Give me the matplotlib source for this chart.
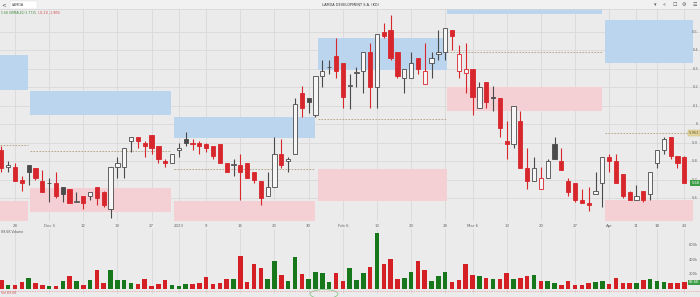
import matplotlib.pyplot as plt
from matplotlib.patches import Rectangle, Ellipse
from matplotlib.lines import Line2D

# daily candles, Athens, 24 Nov 2022 .. 24 Apr 2023 (index = trading day)
opens = [5.86, 5.77, 5.77, 5.70, 5.78, 5.76, 5.69, 5.68, 5.68, 5.66,
         5.65, 5.58, 5.61, 5.61, 5.66, 5.63, 5.54, 5.77, 5.77, 5.91,
         5.93, 5.90, 5.94, 5.88, 5.80, 5.79, 5.86, 5.92, 5.90, 5.90,
         5.89, 5.88, 5.89, 5.79, 5.78, 5.78, 5.79, 5.74, 5.69, 5.61,
         5.66, 5.84, 5.80, 5.84, 6.17, 6.14, 6.05, 6.26, 6.31, 6.37,
         6.33, 6.21, 6.28, 6.29, 6.39, 6.20, 6.50, 6.51, 6.39, 6.25,
         6.25, 6.36, 6.22, 6.33, 6.38, 6.39, 6.51, 6.29, 6.28, 6.30,
         6.09, 6.23, 6.15, 6.14, 5.91, 5.89, 6.02, 5.76, 5.69, 5.65,
         5.71, 5.89, 5.80, 5.69, 5.68, 5.59, 5.57, 5.62, 5.68, 5.82,
         5.80, 5.73, 5.63, 5.59, 5.64, 5.62, 5.79, 5.86, 5.93, 5.83,
         5.82]
highs = [5.88, 5.80, 5.79, 5.72, 5.78, 5.76, 5.75, 5.71, 5.74, 5.66,
         5.65, 5.63, 5.61, 5.63, 5.66, 5.64, 5.77, 5.82, 5.87, 5.93,
         5.93, 5.91, 5.94, 5.88, 5.81, 5.84, 5.90, 5.96, 5.92, 5.91,
         5.90, 5.88, 5.89, 5.79, 5.81, 5.84, 5.79, 5.74, 5.69, 5.74,
         5.93, 5.92, 5.82, 6.14, 6.21, 6.14, 6.26, 6.35, 6.35, 6.47,
         6.33, 6.27, 6.31, 6.39, 6.44, 6.49, 6.55, 6.59, 6.39, 6.30,
         6.39, 6.36, 6.44, 6.39, 6.51, 6.52, 6.51, 6.43, 6.44, 6.30,
         6.23, 6.23, 6.21, 6.14, 6.02, 6.10, 6.07, 5.87, 5.82, 5.77,
         5.81, 5.93, 5.87, 5.71, 5.68, 5.65, 5.66, 5.74, 5.82, 5.84,
         5.84, 5.73, 5.64, 5.67, 5.64, 5.74, 5.86, 5.93, 5.93, 5.83,
         5.83]
lows = [5.74, 5.74, 5.69, 5.64, 5.67, 5.70, 5.63, 5.58, 5.60, 5.58,
        5.57, 5.58, 5.54, 5.59, 5.56, 5.55, 5.49, 5.71, 5.71, 5.85,
        5.87, 5.82, 5.84, 5.79, 5.77, 5.79, 5.82, 5.88, 5.86, 5.84,
        5.85, 5.81, 5.79, 5.74, 5.72, 5.59, 5.71, 5.68, 5.56, 5.61,
        5.66, 5.76, 5.74, 5.84, 6.04, 6.06, 6.04, 6.20, 6.27, 6.25,
        6.09, 6.08, 6.20, 6.17, 6.09, 6.09, 6.47, 6.35, 6.25, 6.17,
        6.25, 6.27, 6.22, 6.25, 6.35, 6.35, 6.40, 6.25, 6.17, 6.05,
        6.09, 6.09, 6.07, 5.93, 5.81, 5.87, 5.76, 5.65, 5.69, 5.65,
        5.71, 5.81, 5.75, 5.61, 5.58, 5.57, 5.53, 5.62, 5.55, 5.74,
        5.68, 5.60, 5.59, 5.59, 5.58, 5.59, 5.76, 5.84, 5.81, 5.76,
        5.68]
closes = [5.76, 5.78, 5.69, 5.68, 5.74, 5.71, 5.63, 5.68, 5.61, 5.62,
          5.57, 5.58, 5.57, 5.63, 5.60, 5.56, 5.77, 5.79, 5.87, 5.93,
          5.91, 5.88, 5.87, 5.81, 5.79, 5.84, 5.87, 5.90, 5.89, 5.88,
          5.87, 5.83, 5.79, 5.74, 5.78, 5.74, 5.71, 5.70, 5.60, 5.66,
          5.84, 5.78, 5.81, 6.11, 6.09, 6.12, 6.26, 6.29, 6.31, 6.29,
          6.15, 6.21, 6.28, 6.39, 6.20, 6.49, 6.48, 6.36, 6.26, 6.30,
          6.33, 6.30, 6.29, 6.36, 6.39, 6.52, 6.48, 6.38, 6.30, 6.15,
          6.20, 6.12, 6.14, 5.98, 5.89, 6.10, 5.76, 5.69, 5.76, 5.71,
          5.80, 5.81, 5.75, 5.63, 5.59, 5.57, 5.56, 5.64, 5.82, 5.80,
          5.68, 5.61, 5.59, 5.61, 5.59, 5.74, 5.86, 5.92, 5.83, 5.79,
          5.68]
# volume in thousands
volumes = [120, 53, 53, 93, 147, 89, 62, 36, 44, 107,
           173, 116, 53, 120, 262, 89, 267, 120, 129, 89,
           71, 133, 40, 67, 129, 58, 40, 71, 71, 89,
           160, 71, 84, 142, 138, 449, 102, 338, 289, 138,
           387, 187, 107, 436, 200, 133, 231, 218, 102, 218,
           116, 284, 120, 218, 302, 764, 342, 418, 142, 156,
           231, 387, 262, 111, 178, 231, 93, 120, 338, 187,
           173, 156, 142, 142, 213, 133, 151, 173, 196, 116,
           107, 84, 53, 116, 62, 62, 89, 93, 107, 67,
           151, 76, 76, 76, 120, 133, 111, 93, 76, 76,
           89.6]

tick_idx = [2, 7, 12, 17, 22, 26, 30, 35, 40, 45, 50, 55, 60, 65, 69,
            74, 79, 84, 89, 93, 96, 100]
tick_labels = ['28', 'Dec 5', '12', '19', '27', '2023', '9', '16', '23', '30',
               'Feb 6', '13', '20', '28', 'Mar 6', '13', '20', '27', 'Apr',
               '11', '18', '24']
price_ticks = [5.6, 5.7, 5.8, 5.9, 6.0, 6.1, 6.2, 6.3, 6.4, 6.5]
price_tick_labels = ['5.6', '5.7', '5.8', '5.9', '6', '6.1', '6.2', '6.3', '6.4', '6.5']
vol_ticks = [200, 400, 600]
vol_tick_labels = ['200k', '400k', '600k']

# zones: (first bar, last bar, low, high)
supply_zones = [(-0.2, 3.9, 6.185, 6.375), (4.2, 24.85, 6.05, 6.18),
                (25.3, 45.9, 5.925, 6.04), (46.4, 65.25, 6.294, 6.467),
                (65.3, 87.95, 6.598, 6.70), (88.4, 101.3, 6.332, 6.565)]
demand_zones = [(-0.2, 3.9, 5.40, 5.584), (4.2, 24.85, 5.524, 5.654),
                (25.3, 45.9, 5.40, 5.584), (46.4, 65.25, 5.584, 5.757),
                (65.3, 87.95, 6.072, 6.202), (88.4, 101.3, 5.40, 5.589)]
levels = [(-0.2, 3.9, 5.887), (4.2, 24.85, 5.855), (25.3, 45.9, 5.757),
          (46.4, 65.25, 6.028), (65.3, 87.95, 6.392), (88.4, 101.3, 5.952)]

BG = '#ebebeb'
GRID = '#d9d9d9'
RED = '#d8262d'
DARK = '#4a4a4a'
VGREEN = '#17781b'
VRED = '#d41f24'
TXT = '#666666'

W, H = 700, 297


def fy(py):
    return 1 - py / H


fig = plt.figure(figsize=(7.0, 2.97), dpi=100)
fig.patch.set_facecolor(BG)

ax = fig.add_axes([0, fy(221), 1, (221 - 9) / H])
vax = fig.add_axes([0, fy(294), 1, (294 - 229) / H], sharex=ax)
for a in (ax, vax):
    a.set_facecolor(BG)
    for s in a.spines.values():
        s.set_visible(False)
    a.set_xticks(tick_idx)
    a.grid(axis='x', color=GRID, lw=0.6)
    a.set_axisbelow(True)

ax.set_xlim(-0.19, 102.3)
ax.set_ylim(5.475, 6.625)
vax.set_ylim(-68, 822)

ax.set_xticklabels(tick_labels)
ax.tick_params(axis='x', length=0, labelsize=2.8, pad=2.2, colors=TXT)
ax.set_yticks(price_ticks)
ax.tick_params(axis='y', length=0, labelleft=False)
ax.grid(axis='y', color=GRID, lw=0.6)
vax.tick_params(axis='x', length=0, labelbottom=False)
vax.set_yticks(vol_ticks)
vax.tick_params(axis='y', length=0, labelleft=False)

# zones and levels
for x0, x1, lo, hi in supply_zones:
    ax.add_patch(Rectangle((x0, lo), x1 - x0, hi - lo, facecolor='#bcd5ee',
                           edgecolor='none', zorder=1))
for x0, x1, lo, hi in demand_zones:
    ax.add_patch(Rectangle((x0, lo), x1 - x0, hi - lo, facecolor='#f4cfd3',
                           edgecolor='none', zorder=1))
for x0, x1, lv in levels:
    ax.hlines(lv, x0, x1, colors='#ad9d7c', lw=0.6, linestyles=(0, (2, 1.6)), zorder=2)

# candles
n = len(closes)
cols = []
for i in range(n):
    prev = closes[i - 1] if i > 0 else opens[i]
    col = RED if closes[i] < prev else DARK
    cols.append(VRED if closes[i] < prev else VGREEN)
    ax.vlines(i, lows[i], highs[i], color=col, lw=0.8, zorder=3)
    lo, hi = min(opens[i], closes[i]), max(opens[i], closes[i])
    filled = closes[i] < opens[i]
    ax.add_patch(Rectangle((i - 0.31, lo), 0.62, max(hi - lo, 0.003),
                           facecolor=col if filled else '#f6f6f6',
                           edgecolor=col, lw=0.6, zorder=4))

vax.bar(range(n), volumes, width=0.66, color=cols, zorder=3)

# right side labels
for v, t in zip(price_ticks, price_tick_labels):
    ax.text(0.997, v, t, transform=ax.get_yaxis_transform(), ha='right',
            va='center', fontsize=2.6, color=TXT)
for v, t in zip(vol_ticks, vol_tick_labels):
    vax.text(0.997, v, t, transform=vax.get_yaxis_transform(), ha='right',
             va='center', fontsize=2.6, color=TXT)

ax.text(0.999, closes[-1], '%.2f' % closes[-1], transform=ax.get_yaxis_transform(),
        ha='right', va='center', fontsize=2.6, color='white', zorder=6,
        bbox=dict(boxstyle='square,pad=0.25', fc='#3c9c46', ec='none'))
ax.text(0.999, levels[-1][2], '%.3f' % levels[-1][2], transform=ax.get_yaxis_transform(),
        ha='right', va='center', fontsize=2.6, color='#5a4a1a', zorder=6,
        bbox=dict(boxstyle='square,pad=0.25', fc='#e6d8a2', ec='#c2ae6c', lw=0.3))
vax.text(0.999, volumes[-1], '%.1fK' % volumes[-1], transform=vax.get_yaxis_transform(),
         ha='right', va='center', fontsize=2.6, color='white', zorder=6,
         bbox=dict(boxstyle='square,pad=0.25', fc='#3c9c46', ec='none'))

# header bar
fig.add_artist(Rectangle((0, fy(9)), 1, 9 / H, transform=fig.transFigure,
                         facecolor='#f1f1f1', edgecolor='none'))
fig.add_artist(Line2D([0, 1], [fy(9), fy(9)], transform=fig.transFigure,
                      color='#d4d4d4', lw=0.5))
fig.add_artist(Rectangle((10 / W, fy(9)), 27 / W, 8 / H, transform=fig.transFigure,
                         facecolor='white', edgecolor='#dddddd', lw=0.3))
fig.text(4 / W, fy(4.5), '<', fontsize=4, color='#444444', ha='center', va='center')
fig.text(12 / W, fy(4.5), 'LAMDA', fontsize=2.4, color='#444444', va='center')
fig.text(350 / W, fy(5), 'LAMDA DEVELOPMENT S.A. (KO)', fontsize=2.5,
         color='#333333', ha='center', va='center')
for xp, g in zip([655, 664, 675, 684, 695], ['\u25be', '\u00ab', '\u2610', '\u2699', '\u2630']):
    fig.text(xp / W, fy(4.5), g, fontsize=3.6, color='#555555', ha='center', va='center')

# legend line: green part, then red change right after it
chg = closes[-1] - closes[-2]
t1 = fig.text(1 / W, fy(13), '%.2f VWMA(20) 5.7715' % closes[-1], fontsize=2.2,
              color='#3a8a3a', va='center')
fig.canvas.draw()
x_end = t1.get_window_extent().x1 / fig.bbox.width
fig.text(x_end + 2 / W, fy(13), '(%.2f) %.2f%%' % (chg, chg / closes[-2] * 100),
         fontsize=2.2, color='#d03a3a', va='center')
fig.text(1 / W, fy(232), '89.6K Volume', fontsize=2.3, color='#555555', va='center')

# bottom strip
fig.add_artist(Line2D([0, 1], [fy(291), fy(291)], transform=fig.transFigure,
                      color='#e79aa0', lw=0.5, ls=(0, (2, 1.5))))
fig.text(1 / W, fy(292.5), 'Vol 89.6K', fontsize=2.3, color='#d05a5a', va='center')
fig.add_artist(Ellipse((324 / W, fy(294)), 28 / W, 9 / H, transform=fig.transFigure,
                       facecolor='none', edgecolor='#7cbf7c', lw=0.5))

fig.savefig('out.png', dpi=100, facecolor=BG)
